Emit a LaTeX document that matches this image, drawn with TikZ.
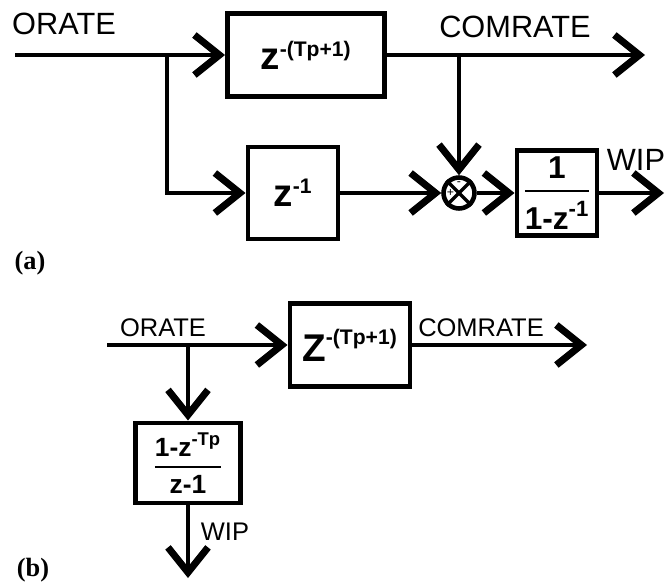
\documentclass[tikz,border=0pt]{standalone}
\usepackage{amsmath}
\usepackage{fontspec}
\setmainfont{Liberation Sans}
\newfontfamily\capfont{Liberation Serif}
\usetikzlibrary{arrows.meta,positioning,calc}
\tikzset{
  blockbox/.style={draw=black,line width=2.8pt,inner sep=2pt,align=center},
  sigarr/.style={-{Straight Barb[length=5mm,width=8mm,line width=4pt]},line width=2.5pt},
  siglabel/.style={font=\fontsize{17.5}{19}\selectfont,inner sep=0pt},
  smalllabel/.style={font=\fontsize{14.5}{16}\selectfont,inner sep=0pt},
  sumjunc/.style={draw=black,circle,line width=2.6pt,minimum size=0.62cm,inner sep=0pt},
  partlabel/.style={font=\capfont\bfseries\fontsize{15}{17}\selectfont,inner sep=0pt}
}
\newcommand{\zdelay}[2]{$\text{\bfseries #1}^{\text{\fontsize{12}{14}\selectfont\bfseries #2}}$}

\begin{document}
\begin{tikzpicture}[x=0.02cm,y=-0.02cm]
  \useasboundingbox (0,0) rectangle (666,584);
  % (a)
  \node[blockbox,minimum width=3.14cm,minimum height=1.66cm,font=\fontsize{22}{24}\selectfont]
    (delayA) at (306,55) {\zdelay{z}{-(Tp+1)}};
  \node[blockbox,minimum width=1.8cm,minimum height=1.84cm,font=\fontsize{22}{24}\selectfont]
    (unitA) at (293,193) {\zdelay{z}{-1}};
  \node[sumjunc] (sumA) at (459,193) {};
  \draw[line width=2pt] (sumA.north west) -- (sumA.south east);
  \draw[line width=2pt] (sumA.north east) -- (sumA.south west);
  \node[font=\fontsize{7}{8}\selectfont,inner sep=0pt] (sumplus) at ([xshift=-0.17cm]sumA.center) {+};
  \node[font=\fontsize{7}{8}\selectfont,inner sep=0pt] (summinus) at ([yshift=0.19cm]sumA.center) {-};
  \node[blockbox,minimum width=1.6cm,minimum height=1.7cm,font=\bfseries\fontsize{18}{20}\selectfont]
    (accA) at (557,193) {$\genfrac{}{}{1.6pt}{0}{\text{1}}{\text{1-z}^{\text{-1}}}$};
  \coordinate (inA) at (15,55);
  \coordinate (splitA) at (167,55);
  \coordinate (tapA) at (459,55);
  \coordinate (comA) at (645,55);
  \coordinate (wipA) at (664,193);
  \node[siglabel] (orateA) at (64,24) {ORATE};
  \node[siglabel] (comrateA) at (515,27) {COMRATE};
  \node[siglabel] (wipAlbl) at (636,160) {WIP};
  \draw[sigarr] (inA) -- (inA -| delayA.west);
  \draw[sigarr] (splitA) |- (unitA.west);
  \draw[sigarr] (delayA.east |- comA) -- (comA);
  \draw[sigarr] (tapA) -- (sumA.north);
  \draw[sigarr] (unitA.east) -- (sumA.west);
  \draw[sigarr] (sumA.east) -- (accA.west);
  \draw[sigarr] (accA.east) -- (wipA);
  \node[partlabel] (labA) at (30,263) {(a)};
  % (b)
  \node[blockbox,minimum width=2.4cm,minimum height=1.66cm,font=\fontsize{22}{24}\selectfont]
    (delayB) at (350,345) {\zdelay{Z}{-(Tp+1)}};
  \node[blockbox,minimum width=2.1cm,minimum height=1.6cm,font=\bfseries\fontsize{15}{17}\selectfont]
    (pipeB) at (188,463) {$\genfrac{}{}{1.3pt}{0}{\text{1-z}^{\text{-Tp}}}{\text{z-1}}$};
  \coordinate (inB) at (107,345);
  \coordinate (splitB) at (188,345);
  \coordinate (comB) at (587,345);
  \coordinate (wipB) at (188,578);
  \node[smalllabel] (orateB) at (163,328) {ORATE};
  \node[smalllabel] (comrateB) at (481,328) {COMRATE};
  \node[smalllabel] (wipBlbl) at (225,532) {WIP};
  \draw[sigarr] (inB) -- (delayB.west);
  \draw[sigarr] (splitB) -- (pipeB.north);
  \draw[sigarr] (delayB.east) -- (comB);
  \draw[sigarr] (pipeB.south) -- (wipB);
  \node[partlabel] (labB) at (33,570) {(b)};
\end{tikzpicture}
\end{document}
